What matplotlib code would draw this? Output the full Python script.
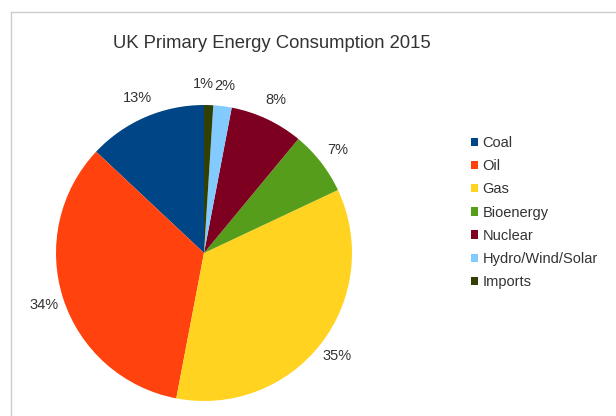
import numpy as np
import matplotlib.pyplot as plt
from matplotlib.lines import Line2D
from matplotlib.patches import Patch

plt.rcParams['font.family'] = ['Liberation Sans', 'DejaVu Sans']

sources = ["Coal", "Oil", "Gas", "Bioenergy", "Nuclear", "Hydro/Wind/Solar", "Imports"]
shares = [13, 34, 35, 7, 8, 2, 1]
colours = ["#004586", "#ff420e", "#ffd320", "#579d1c", "#7e0021", "#83caff", "#314004"]

W, H = 616, 416
fig = plt.figure(figsize=(W / 100, H / 100), dpi=100)

# pie axes: centre (204, 253) px, radius 148 px
cx, cy, r = 204, 253, 148
ax = fig.add_axes([(cx - r) / W, 1 - (cy + r) / H, 2 * r / W, 2 * r / H])
wedges, texts, autotexts = ax.pie(shares, colors=colours, startangle=90, counterclock=True,
                                  autopct='%d%%', pctdistance=1.14,
                                  wedgeprops=dict(linewidth=0),
                                  textprops=dict(fontsize=10.5, color='#333333'))
ax.set_xlim(-1, 1)
ax.set_ylim(-1, 1)
ax.set_aspect('equal')
ax.axis('off')

# keep the two small labels at the top from running into each other
autotexts[-1].set_ha('right')
x, y = autotexts[-1].get_position()
autotexts[-1].set_position((x + 0.03, y))

fig.text(272 / W, 1 - 44 / H, "UK Primary Energy Consumption 2015", ha='center', va='center',
         fontsize=13.3, color='#333333')

handles = [Patch(facecolor=c, edgecolor='none') for c in colours]
fig.legend(handles, sources, loc='upper left', bbox_to_anchor=(471 / W, 1 - 136 / H),
           frameon=False, fontsize=10.5, handlelength=0.5, handleheight=0.5,
           handletextpad=0.3, labelspacing=0.63, borderaxespad=0, borderpad=0,
           labelcolor='#333333')

# light frame along the top and left
fig.add_artist(Line2D([11 / W, 11 / W], [0, 1 - 12 / H], color='#cccccc', lw=1))
fig.add_artist(Line2D([11 / W, 1], [1 - 12 / H, 1 - 12 / H], color='#cccccc', lw=1))

fig.savefig("out.png", dpi=100)
